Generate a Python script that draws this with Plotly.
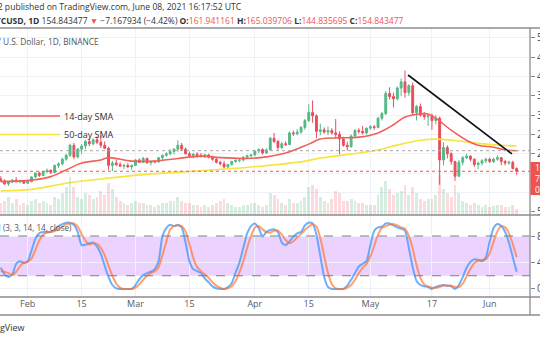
import plotly.graph_objects as go
import pandas as pd

W, H = 540, 340

# ---------------- data ----------------
start_date = "2021-01-25"
n_days = 135
dates = pd.date_range(start_date, periods=n_days, freq="D")

opens = [135,130,122,127,132,128,130, 124,128,140,150,144,154,157, 152,170,174,186,196,222,192,
         212,220,232,226,236,230,222, 214,170,176,172,168,170,166, 170,184,178,188,177,180,179,
         190,196,200,206,212,222,212, 200,195,199,196,194,197,192, 186,178,174,166,172,180,183,
         184,191,195,197,207,211,202, 210,240,232,216,226,224,254, 252,256,268,286,307,298,258,
         262,256,260,254,250,238,222, 218,246,260,258,254,266,270, 268,292,304,356,348,342,370,
         386,358,376,306,322,300,296, 298,286,292,184,216,200,180, 142,178,190,194,186,172,176,
         182,186,180,186,190,180,176, 178,161.94]
highs = [142,134,130,135,140,133,132, 131,142,152,154,156,162,160, 172,178,190,200,226,228,215,
         225,236,242,240,245,247,232, 218,182,185,178,174,176,172, 186,188,192,190,182,184,192,
         198,204,212,215,235,228,216, 206,202,204,202,200,200,195, 190,182,182,174,182,186,188,
         194,198,200,210,214,214,214, 244,254,236,230,232,258,260, 264,272,290,328,338,302,278,
         268,270,266,290,258,244,232, 250,264,266,272,268,274,274, 296,308,362,372,358,374,395,
         415,380,384,326,330,308,302, 304,300,296,230,222,204,182, 184,194,200,196,188,180,186,
         190,190,190,196,192,184,182, 182,165.04]
lows = [128,120,117,124,126,124,122, 122,126,138,140,142,150,148, 150,163,170,182,192,186,188,
        200,212,220,222,225,215,212, 158,155,168,166,160,164,158, 168,176,176,174,170,175,177,
        184,192,196,198,205,208,198, 190,188,190,190,189,188,182, 175,170,162,160,170,177,178,
        180,188,190,194,202,198,200, 208,228,210,212,220,222,246, 248,252,262,282,280,240,248,
        252,248,250,240,198,218,208, 216,242,252,250,250,262,262, 266,286,300,340,320,338,350,
        345,350,300,286,296,288,272, 262,276,120,170,188,172,130, 140,170,186,180,166,160,170,
        176,176,176,182,170,170,172, 160,144.84]
closes = [130,122,127,132,128,130,124, 128,140,150,144,154,157,152, 170,174,186,196,222,192,212,
          220,232,226,236,230,222,214, 170,176,172,168,170,166,170, 184,178,188,177,180,179,190,
          196,200,206,212,222,212,200, 195,199,196,194,197,192,186, 178,174,166,172,180,183,184,
          191,195,197,207,211,202,210, 240,232,216,226,224,254,252, 256,268,286,307,298,258,262,
          256,260,254,250,238,222,218, 246,260,258,254,266,270,268, 292,304,356,348,342,370,386,
          358,376,306,322,300,296,298, 286,292,184,216,200,180,142, 178,190,194,186,172,176,182,
          186,180,186,190,180,176,178, 162,154.84]
volume_m = [1.2,1.4,1.8,1.2,1.6,1.0,1.2, 1.0,1.4,1.6,1.2,1.4,1.2,1.0, 1.8,1.6,2.2,2.8,3.8,2.8,1.8,
            1.6,2.2,2.0,1.6,1.8,2.4,2.0, 3.2,2.6,1.8,1.4,1.2,1.0,1.2, 1.4,1.2,1.2,1.0,1.0,0.8,1.0,
            1.2,1.2,1.4,1.4,1.8,1.4,1.2, 1.2,1.0,1.0,0.8,1.0,0.8,1.0, 1.2,1.4,1.6,1.2,1.0,0.8,0.8,
            1.0,1.0,1.2,1.2,1.0,0.8,1.0, 2.2,2.0,1.6,1.2,1.0,1.6,1.2, 1.2,1.4,1.8,2.8,3.0,2.6,1.8,
            1.4,1.2,1.6,2.4,2.2,1.4,1.4, 1.6,1.4,1.2,1.2,1.0,1.0,1.0, 2.0,2.8,3.4,2.6,2.0,2.2,2.4,
            3.0,2.0,2.8,2.2,1.6,1.4,1.6, 1.6,2.0,4.0,2.6,2.2,1.8,3.0, 2.2,1.4,1.2,1.0,1.2,1.0,0.8,
            1.0,0.8,0.9,1.0,1.0,0.8,0.8, 1.0,0.6]

# moving averages (day offset from start, value)
sma14_days = [0,8,13,17,21,26,28,34,40,46,52,57,64,69,74,80,83,88,93,98,102,105,109,111,113,117,121,124,128,131,134]
sma14_vals = [128,132,141,158,176,184,190,181,181,188,194,190,188,192,202,225,238,241,243,254,275,295,303,303,292,261,235,222,217,210,208]
sma50_days = [0,8,17,28,39,52,65,78,83,93,98,104,109,113,119,124,130,134]
sma50_vals = [104,108,124,137,148,156,166,179,189,202,210,225,235,238,233,227,222,220]

# Stoch RSI
stoch_k = [32,22,18,22,38,42,39, 42,58,76,84,86,86,86, 90,95,98,100,100,97,86,
           66,67,69,70,64,53,35, 18,6,1,0,0,0,0, 6,15,21,24,26,30,42,
           80,92,97,95,97,93,70, 42,30,27,24,16,10,4, 1,0,0,3,9,25,40,
           62,84,95,99,92,79,86, 89,90,86,70,66,72,79, 84,86,96,100,99,82,50,
           18,3,0,0,0,0,5, 14,24,34,38,42,66,88, 93,94,99,99,96,93,91,
           88,62,33,12,6,4,3, 0,3,5,6,5,4,0, 6,18,32,41,45,44,42,
           48,72,92,98,95,86,70, 48,26]
stoch_d = [28,26,24,21,26,34,40, 41,46,59,73,82,85,86, 87,90,94,98,99,99,94,
           83,73,67,69,68,62,51, 35,20,8,2,0,0,0, 2,7,14,20,24,27,33,
           51,71,90,95,96,95,87, 68,47,33,27,22,17,10, 5,2,0,1,4,12,25,
           42,62,80,93,95,90,86, 85,88,88,82,74,69,72, 78,83,89,94,98,94,77,
           50,24,7,1,0,0,2, 6,14,24,32,38,49,65, 82,92,95,97,98,96,93,
           91,80,61,36,17,7,4, 2,2,3,5,5,5,3, 3,8,19,30,39,43,44,
           45,54,71,87,95,93,84, 68,48]

# drawings
trend_dates = ["2021-05-10 19:00", "2021-06-06 19:00"]
trend_prices = [403.6, 199.5]
support_level = 208
last_close = closes[-1]

tick_dates = ["2021-02-01","2021-02-15","2021-03-01","2021-03-15","2021-04-01",
              "2021-04-15","2021-05-01","2021-05-17","2021-06-01"]
tick_text = ["Feb","15","Mar","15","Apr","15","May","17","Jun"]
price_ticks = [50,100,150,200,250,300,350,400,450,500]
stoch_ticks = [0,40,80]

# ---------------- style ----------------
GREEN = "#53b987"
RED = "#eb4d5c"
FONT = "Open Sans"
TXT = "#4a4a4a"

def px_x(p):
    return p / W

def px_y(p):
    return 1 - p / H

x_left = pd.Timestamp("2021-02-01") - pd.Timedelta(days=27.7 / 3.85)
x_right = pd.Timestamp("2021-02-01") + pd.Timedelta(days=(530 - 27.7) / 3.85)

fig = go.Figure()

# volume
vol_colors = ["rgba(83,185,135,0.24)" if c >= o else "rgba(235,77,92,0.2)" for o, c in zip(opens, closes)]
fig.add_trace(go.Bar(x=dates, y=volume_m, marker=dict(color=vol_colors, line=dict(width=0)),
                     width=0.75 * 86400000, xaxis="x", yaxis="y3", hoverinfo="skip"))

# moving averages
start_ts = pd.Timestamp(start_date)
fig.add_trace(go.Scatter(x=[start_ts + pd.Timedelta(days=d) for d in sma50_days], y=sma50_vals,
                         mode="lines", line=dict(color="#f7e43c", width=1.6, shape="spline", smoothing=1.0),
                         xaxis="x", yaxis="y", hoverinfo="skip"))
fig.add_trace(go.Scatter(x=[start_ts + pd.Timedelta(days=d) for d in sma14_days], y=sma14_vals,
                         mode="lines", line=dict(color="#f2605a", width=1.6, shape="spline", smoothing=1.0),
                         xaxis="x", yaxis="y", hoverinfo="skip"))

# candles
fig.add_trace(go.Candlestick(x=dates, open=opens, high=highs, low=lows, close=closes,
                             increasing=dict(line=dict(color=GREEN, width=1), fillcolor=GREEN),
                             decreasing=dict(line=dict(color=RED, width=1), fillcolor=RED),
                             whiskerwidth=0, xaxis="x", yaxis="y", hoverinfo="skip"))

# trend line
fig.add_trace(go.Scatter(x=trend_dates, y=trend_prices, mode="lines",
                         line=dict(color="#111111", width=1.6), xaxis="x", yaxis="y", hoverinfo="skip"))

# stoch RSI
fig.add_trace(go.Scatter(x=dates, y=stoch_k, mode="lines",
                         line=dict(color="rgba(60,150,250,0.75)", width=2, shape="spline", smoothing=0.6),
                         xaxis="x2", yaxis="y2", hoverinfo="skip"))
fig.add_trace(go.Scatter(x=dates, y=stoch_d, mode="lines",
                         line=dict(color="rgba(255,110,40,0.65)", width=2, shape="spline", smoothing=0.6),
                         xaxis="x2", yaxis="y2", hoverinfo="skip"))

main_dom = [px_y(215), px_y(28)]
stoch_dom = [px_y(297), px_y(215)]
xdom = [0, px_x(530)]

axis_common = dict(range=[x_left, x_right], type="date", tickvals=tick_dates, ticktext=tick_text,
                   showgrid=True, gridcolor="#eef1f7", gridwidth=1, zeroline=False,
                   showline=False, automargin=False, fixedrange=True)

fig.update_layout(
    width=W, height=H, margin=dict(l=0, r=0, t=0, b=0), template="none",
    paper_bgcolor="white", plot_bgcolor="white", showlegend=False,
    font=dict(family=FONT, color=TXT, size=10), bargap=0,
    xaxis=dict(domain=xdom, anchor="y", showticklabels=False, rangeslider=dict(visible=False), **axis_common),
    xaxis2=dict(domain=xdom, anchor="y2", showticklabels=True, ticks="",
                tickfont=dict(size=9, color="#555b66", family=FONT), **axis_common),
    yaxis=dict(domain=main_dom, range=[41.8, 525.1], side="right", tickvals=price_ticks,
               ticks="outside", ticklen=4, tickcolor="#888", showgrid=True, gridcolor="#eef1f7",
               zeroline=False, automargin=False, tickfont=dict(size=10, color="#4a4a4a")),
    yaxis3=dict(domain=main_dom, overlaying="y", range=[0, 18.7], visible=False, automargin=False),
    yaxis2=dict(domain=stoch_dom, range=[-12.1, 111.7], side="right", tickvals=stoch_ticks,
                ticks="outside", ticklen=4, tickcolor="#888", showgrid=True, gridcolor="#eef1f7",
                zeroline=False, automargin=False, tickfont=dict(size=10, color="#4a4a4a")),
)

shapes = []
# stoch band and levels
shapes.append(dict(type="rect", xref="x2 domain", yref="y2", x0=0, x1=1, y0=20, y1=80,
                   fillcolor="rgba(153,21,255,0.19)", line=dict(width=0), layer="below"))
for lv in (20, 80):
    shapes.append(dict(type="line", xref="x2 domain", yref="y2", x0=0, x1=1, y0=lv, y1=lv,
                       line=dict(color="#7b7b86", width=1, dash="dash")))
# price levels
shapes.append(dict(type="line", xref="x domain", yref="y", x0=0, x1=1, y0=support_level, y1=support_level,
                   line=dict(color="#a8a8a8", width=1, dash="dot")))
shapes.append(dict(type="line", xref="x domain", yref="y", x0=0, x1=1, y0=last_close, y1=last_close,
                   line=dict(color="#ef5350", width=1, dash="dot")))
# frame lines
for yy in (28, 215, 297, 315):
    shapes.append(dict(type="line", xref="paper", yref="paper", x0=0, x1=1, y0=px_y(yy), y1=px_y(yy),
                       line=dict(color="#8c8c8c", width=1.3)))
shapes.append(dict(type="line", xref="paper", yref="paper", x0=px_x(530), x1=px_x(530),
                   y0=px_y(28), y1=px_y(315), line=dict(color="#8c8c8c", width=1.3)))
# legend swatches
shapes.append(dict(type="line", xref="paper", yref="paper", x0=0, x1=px_x(60), y0=px_y(116), y1=px_y(116),
                   line=dict(color="#f2605a", width=1.6)))
shapes.append(dict(type="line", xref="paper", yref="paper", x0=0, x1=px_x(60), y0=px_y(134.5), y1=px_y(134.5),
                   line=dict(color="#f7e43c", width=1.6)))
# price label box
shapes.append(dict(type="rect", xref="paper", yref="paper", x0=px_x(530.5), x1=1.02, y0=px_y(195), y1=px_y(162),
                   fillcolor="#ef5350", line=dict(width=0)))
fig.update_layout(shapes=shapes)

R = "#ef5350"
ann = []
def add_text(text, x, y, xanchor="left", size=10, color=TXT, family=FONT):
    ann.append(dict(text=text, x=px_x(x), y=px_y(y), xref="paper", yref="paper", xanchor=xanchor,
                    yanchor="middle", showarrow=False, font=dict(size=size, color=color, family=family),
                    align="left"))

add_text("Mr_Crypto2 published on TradingView.com, June 08, 2021 16:17:52 UTC", 244, 7, "right", 8.6, "#333")
line2 = ("<b>LTCUSD, 1D</b> 154.843477 <span style='color:%s'>▼</span> −7.167934 (−4.42%%) "
         "<b>O:</b><span style='color:%s'>161.941161</span> <b>H:</b><span style='color:%s'>165.039706</span> "
         "<b>L:</b><span style='color:%s'>144.835695</span> <b>C:</b><span style='color:%s'>154.843477</span>") % (R, R, R, R, R)
add_text(line2, 406, 20, "right", 8.5, "#333")
add_text("Litecoin / U.S. Dollar, 1D, BINANCE", 101, 41, "right", 8.4, "#555")
add_text("14-day SMA", 62, 116, "left", 9, "#333")
add_text("50-day SMA", 62, 134.5, "left", 9, "#333")
add_text("Stoch RSI (3, 3, 14, 14, close)", 74, 228, "right", 8.1, "#555")
add_text("TradingView", 27, 327, "right", 9, "#333")
add_text("154.843477<br>7h 42m<br>07:42:08", 533, 178.5, "left", 8.5, "white")
fig.update_layout(annotations=ann)

fig.write_html("out.html", config={"displayModeBar": False})
